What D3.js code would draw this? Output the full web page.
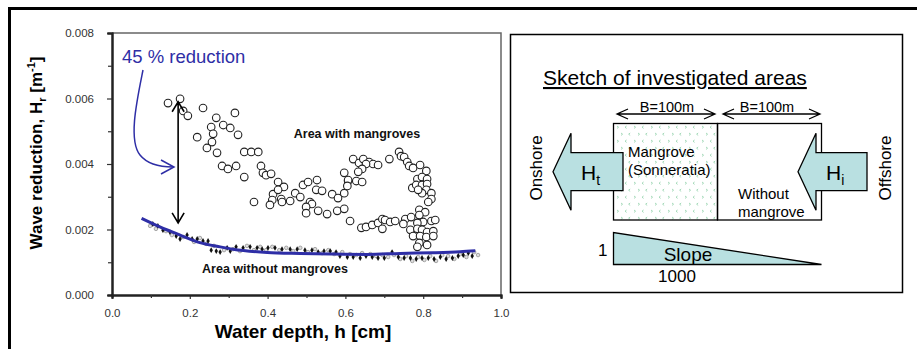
<!DOCTYPE html>
<html>
<head>
<meta charset="utf-8">
<script src="https://cdn.jsdelivr.net/npm/d3@7"></script>
<style>
  html, body { margin: 0; padding: 0; background: #fff; }
  svg { display: block; font-family: "Liberation Sans", Arial, sans-serif; }
</style>
</head>
<body>
<svg id="fig" width="917" height="349"></svg>
<script>
// Wave reduction with mangroves (open circles): [water depth h, Hr]
const withMangroves = [
  [0.144,0.00586],[0.175,0.00599],[0.183,0.00562],[0.195,0.00547],[0.234,0.00571],
  [0.268,0.00541],[0.316,0.00556],[0.255,0.00513],[0.260,0.00492],[0.286,0.00519],
  [0.304,0.00510],[0.324,0.00489],[0.219,0.00482],[0.257,0.00467],[0.244,0.00449],
  [0.270,0.00434],[0.283,0.00394],[0.298,0.00385],[0.319,0.00394],[0.340,0.00437],
  [0.358,0.00437],[0.376,0.00437],[0.340,0.00360],[0.365,0.00284],[0.383,0.00394],
  [0.388,0.00373],[0.396,0.00366],[0.409,0.00370],[0.427,0.00345],[0.442,0.00330],
  [0.414,0.00308],[0.427,0.00321],[0.435,0.00293],[0.412,0.00290],[0.406,0.00275],
  [0.437,0.00284],[0.458,0.00287],[0.471,0.00311],[0.484,0.00299],[0.491,0.00336],
  [0.504,0.00345],[0.527,0.00351],[0.525,0.00321],[0.540,0.00318],[0.566,0.00308],
  [0.581,0.00296],[0.597,0.00311],[0.597,0.00373],[0.607,0.00348],[0.509,0.00284],
  [0.514,0.00278],[0.499,0.00269],[0.499,0.00250],[0.530,0.00257],[0.553,0.00247],
  [0.579,0.00257],[0.597,0.00263],[0.612,0.00226],[0.641,0.00205],[0.653,0.00208],
  [0.669,0.00214],[0.684,0.00220],[0.695,0.00232],[0.702,0.00229],[0.695,0.00202],
  [0.715,0.00223],[0.728,0.00226],[0.620,0.00415],[0.635,0.00403],[0.646,0.00415],
  [0.661,0.00406],[0.671,0.00400],[0.684,0.00397],[0.653,0.00400],[0.643,0.00385],
  [0.633,0.00376],[0.607,0.00351],[0.628,0.00348],[0.643,0.00345],[0.605,0.00333],
  [0.713,0.00415],[0.738,0.00437],[0.743,0.00424],[0.751,0.00421],[0.759,0.00406],
  [0.764,0.00394],[0.774,0.00388],[0.792,0.00397],[0.808,0.00379],[0.785,0.00354],
  [0.797,0.00360],[0.810,0.00354],[0.772,0.00327],[0.782,0.00336],[0.797,0.00336],
  [0.810,0.00339],[0.808,0.00321],[0.821,0.00311],[0.821,0.00293],[0.813,0.00284],
  [0.790,0.00260],[0.805,0.00253],[0.790,0.00244],[0.800,0.00223],[0.821,0.00226],
  [0.831,0.00229],[0.785,0.00220],[0.754,0.00232],[0.769,0.00238],[0.749,0.00217],
  [0.767,0.00199],[0.785,0.00202],[0.797,0.00199],[0.810,0.00192],[0.826,0.00195],
  [0.774,0.00180],[0.792,0.00180],[0.808,0.00177],[0.826,0.00180],[0.790,0.00159],
  [0.810,0.00153],[0.785,0.00147],[0.797,0.00311],[0.787,0.00321]
];

// Wave reduction without mangroves, dark markers: [h, Hr]
const withoutDark = [
  [0.105,0.00217],[0.118,0.00211],[0.131,0.00198],[0.149,0.00192],[0.165,0.00180],
  [0.175,0.00171],[0.193,0.00183],[0.206,0.00171],[0.219,0.00171],[0.234,0.00165],
  [0.247,0.00165],[0.255,0.00137],[0.268,0.00134],[0.278,0.00131],[0.296,0.00144],
  [0.304,0.00134],[0.319,0.00147],[0.337,0.00144],[0.355,0.00147],[0.373,0.00144],
  [0.386,0.00140],[0.401,0.00144],[0.419,0.00144],[0.437,0.00140],[0.458,0.00140],
  [0.476,0.00140],[0.496,0.00137],[0.514,0.00137],[0.530,0.00131],[0.545,0.00134],
  [0.561,0.00134],[0.576,0.00131],[0.586,0.00119],[0.605,0.00116],[0.620,0.00116],
  [0.638,0.00113],[0.653,0.00119],[0.669,0.00116],[0.684,0.00113],[0.700,0.00113],
  [0.720,0.00131],[0.736,0.00116],[0.751,0.00113],[0.767,0.00113],[0.782,0.00110],
  [0.797,0.00113],[0.813,0.00113],[0.828,0.00110],[0.844,0.00116],[0.859,0.00110],
  [0.875,0.00113],[0.890,0.00119],[0.903,0.00122],[0.916,0.00128],[0.926,0.00119]
];

// Wave reduction without mangroves, light markers: [h, Hr]
const withoutLight = [
  [0.098,0.00211],[0.113,0.00202],[0.139,0.00195],[0.154,0.00183],[0.183,0.00177],
  [0.211,0.00162],[0.226,0.00174],[0.242,0.00156],[0.262,0.00150],[0.288,0.00137],
  [0.311,0.00140],[0.329,0.00134],[0.347,0.00150],[0.365,0.00137],[0.381,0.00147],
  [0.396,0.00137],[0.412,0.00147],[0.430,0.00137],[0.448,0.00144],[0.466,0.00134],
  [0.484,0.00144],[0.504,0.00131],[0.522,0.00140],[0.540,0.00128],[0.556,0.00137],
  [0.571,0.00125],[0.592,0.00131],[0.612,0.00125],[0.628,0.00122],[0.643,0.00128],
  [0.664,0.00125],[0.679,0.00119],[0.695,0.00122],[0.710,0.00116],[0.725,0.00122],
  [0.741,0.00110],[0.756,0.00119],[0.772,0.00104],[0.787,0.00116],[0.803,0.00107],
  [0.818,0.00119],[0.833,0.00104],[0.849,0.00122],[0.864,0.00119],[0.880,0.00110],
  [0.895,0.00125],[0.911,0.00116],[0.931,0.00131],[0.941,0.00122]
];

// Fitted trend for the area without mangroves: [h, Hr]
const trendLine = [
  [0.076,0.00234],[0.123,0.00208],[0.175,0.00183],[0.226,0.00160],[0.278,0.00147],
  [0.311,0.00140],[0.399,0.00130],[0.484,0.00127],[0.569,0.00125],[0.656,0.00124],
  [0.741,0.00127],[0.826,0.00129],[0.895,0.00132],[0.934,0.00135]
];

// Reduction marker: depth and the two Hr levels it spans
const reductionAt = 0.17;
const reductionSpan = [0.0059, 0.0022];

// Axis ticks
const yTicks = [0, 0.002, 0.004, 0.006, 0.008];
const yMinorTicks = [0.001, 0.003, 0.005, 0.007];
const xTicks = [0, 0.2, 0.4, 0.6, 0.8, 1.0];
const xMinorTicks = [0.1, 0.3, 0.5, 0.7, 0.9];

const svg = d3.select("#fig");
const BLUE = "#2e2ea6";
const TEAL = "#b9e0e1";

// outer frame
svg.append("rect").attr("x", 9.5).attr("y", 8.5).attr("width", 1000).attr("height", 1000)
  .attr("fill", "none").attr("stroke", "#000").attr("stroke-width", 3);

// ---------------- chart ----------------
const x = d3.scaleLinear().domain([0, 1]).range([112, 501]);
const y = d3.scaleLinear().domain([0, 0.008]).range([295, 33]);

const g = svg.append("g");

// frame top/right
g.append("path")
  .attr("d", `M${x(0)},${y(0.008)}H${x(1)}V${y(0)}`)
  .attr("fill", "none").attr("stroke", "#666").attr("stroke-width", 1.5);

const yAxis = g.append("g").attr("transform", `translate(${x(0)},0)`)
  .call(d3.axisLeft(y).tickValues(yTicks).tickFormat(d3.format(".3f")).tickSize(5).tickPadding(13));
const yMinor = g.append("g").attr("transform", `translate(${x(0)},0)`)
  .call(d3.axisLeft(y).tickValues(yMinorTicks).tickFormat("").tickSize(4));
const xAxis = g.append("g").attr("transform", `translate(0,${y(0)})`)
  .call(d3.axisBottom(x).tickValues(xTicks).tickFormat(d3.format(".1f")).tickSize(4).tickPadding(10));
const xMinor = g.append("g").attr("transform", `translate(0,${y(0)})`)
  .call(d3.axisBottom(x).tickValues(xMinorTicks).tickFormat("").tickSize(3));

[yAxis, yMinor, xAxis, xMinor].forEach(a => {
  a.select(".domain").attr("stroke", "#222").attr("stroke-width", 2);
  a.selectAll(".tick line").attr("stroke", "#333").attr("stroke-width", 1.2);
  a.selectAll(".tick text").attr("fill", "#333").attr("font-size", 11.5)
    .attr("font-family", "'Liberation Sans', Arial, sans-serif");
});

// without mangroves — light speckled markers
g.append("g").selectAll("circle").data(withoutLight).join("circle")
  .attr("cx", d => x(d[0])).attr("cy", d => y(d[1])).attr("r", 1.8)
  .attr("fill", "#ddd").attr("stroke", "#888").attr("stroke-width", 0.7);

// without mangroves — dark markers
g.append("g").selectAll("path").data(withoutDark).join("path")
  .attr("transform", d => `translate(${x(d[0])},${y(d[1])})`)
  .attr("d", d3.symbol(d3.symbolDiamond, 10)())
  .attr("fill", "#111");

// with mangroves — open circles
g.append("g").selectAll("circle").data(withMangroves).join("circle")
  .attr("cx", d => x(d[0])).attr("cy", d => y(d[1])).attr("r", 3.8)
  .attr("fill", "#fff").attr("stroke", "#222").attr("stroke-width", 1.1);

// fitted trend
g.append("path").datum(trendLine)
  .attr("d", d3.line().x(d => x(d[0])).y(d => y(d[1])).curve(d3.curveMonotoneX))
  .attr("fill", "none").attr("stroke", BLUE).attr("stroke-width", 3);

// double-headed reduction arrow
const ax = x(reductionAt), ay1 = y(reductionSpan[0]), ay2 = y(reductionSpan[1]);
g.append("path")
  .attr("d", `M${ax},${ay1}V${ay2}M${ax - 6},${ay1 + 10}L${ax},${ay1}L${ax + 6},${ay1 + 10}` +
             `M${ax - 6},${ay2 - 10}L${ax},${ay2}L${ax + 6},${ay2 - 10}`)
  .attr("fill", "none").attr("stroke", "#000").attr("stroke-width", 1.6);

// curved pointer from the label
g.append("path")
  .attr("d", "M143,70 C137,100 128,140 140,155 C148,165 160,167 173,167")
  .attr("fill", "none").attr("stroke", BLUE).attr("stroke-width", 1.5);
g.append("path")
  .attr("d", "M161,160 L174,167 L161,174")
  .attr("fill", "none").attr("stroke", BLUE).attr("stroke-width", 1.5);

g.append("text").attr("x", 122).attr("y", 63)
  .attr("font-size", 18.5).attr("fill", BLUE).text("45 % reduction");

g.append("text").attr("x", 357).attr("y", 138).attr("text-anchor", "middle")
  .attr("font-size", 12.5).attr("font-weight", "bold").attr("fill", "#111")
  .text("Area with mangroves");
g.append("text").attr("x", 275).attr("y", 273).attr("text-anchor", "middle")
  .attr("font-size", 12.5).attr("font-weight", "bold").attr("fill", "#111")
  .text("Area without mangroves");

// axis titles
g.append("text").attr("x", 303).attr("y", 338).attr("text-anchor", "middle")
  .attr("font-size", 19).attr("font-weight", "bold").attr("fill", "#000")
  .text("Water depth, h [cm]");

const yt = g.append("text").attr("transform", "translate(42,153) rotate(-90)")
  .attr("text-anchor", "middle").attr("font-size", 17).attr("font-weight", "bold").attr("fill", "#000");
yt.append("tspan").text("Wave reduction, H");
yt.append("tspan").attr("font-size", 11).attr("dy", 4).text("r");
yt.append("tspan").attr("dy", -4).text(" [m");
yt.append("tspan").attr("font-size", 11).attr("dy", -7).text("-1");
yt.append("tspan").attr("dy", 7).text("]");

// ---------------- sketch panel ----------------
const s = svg.append("g");
const defs = svg.append("defs");
const pat = defs.append("pattern").attr("id", "mangrovePattern")
  .attr("patternUnits", "userSpaceOnUse").attr("width", 17).attr("height", 14)
  .attr("x", 614).attr("y", 124);
pat.append("path")
  .attr("d", "M3,2 L4.6,3.2 L3,4.4 M12.6,2 L11,3.2 L12.6,4.4 M7,9 L8.6,10.2 L7,11.4 M16.2,9 L14.6,10.2 L16.2,11.4")
  .attr("fill", "none").attr("stroke", "#9bd5b1").attr("stroke-width", 0.9);

s.append("rect").attr("x", 510.5).attr("y", 34.5).attr("width", 392).attr("height", 258)
  .attr("fill", "#fff").attr("stroke", "#000").attr("stroke-width", 1.5);

s.append("text").attr("x", 543).attr("y", 85).attr("font-size", 21)
  .attr("text-decoration", "underline").attr("fill", "#000").text("Sketch of investigated areas");

// study area boxes
s.append("rect").attr("x", 613.5).attr("y", 123.5).attr("width", 104).attr("height", 96.5)
  .attr("fill", "url(#mangrovePattern)").attr("stroke", "#000").attr("stroke-width", 1.3);
s.append("rect").attr("x", 717.5).attr("y", 123.5).attr("width", 104).attr("height", 96.5)
  .attr("fill", "none").attr("stroke", "#000").attr("stroke-width", 1.3);

// width dimension arrows
function dimArrow(x1, x2, yy) {
  s.append("path")
    .attr("d", `M${x1},${yy}H${x2}M${x1 + 11},${yy - 5}L${x1},${yy}L${x1 + 11},${yy + 5}` +
               `M${x2 - 11},${yy - 5}L${x2},${yy}L${x2 - 11},${yy + 5}`)
    .attr("fill", "none").attr("stroke", "#000").attr("stroke-width", 1.3);
}
dimArrow(617, 715, 114);
dimArrow(723, 820, 114);
s.append("text").attr("x", 667).attr("y", 112).attr("text-anchor", "middle")
  .attr("font-size", 14.5).text("B=100m");
s.append("text").attr("x", 767).attr("y", 112).attr("text-anchor", "middle")
  .attr("font-size", 14.5).text("B=100m");

// wave arrows
function blockArrow(tipX, headX, tailX) {
  const cy = 171.7, headH = 38.5, shaftH = 19;
  s.append("path")
    .attr("d", `M${tipX},${cy}L${headX},${cy - headH}V${cy - shaftH}H${tailX}V${cy + shaftH}H${headX}V${cy + headH}Z`)
    .attr("fill", TEAL).attr("stroke", "#000").attr("stroke-width", 1.3);
}
blockArrow(553, 571, 623);
blockArrow(798, 816, 867);

function waveLabel(xx, sub) {
  const t = s.append("text").attr("x", xx).attr("y", 180).attr("font-size", 21);
  t.append("tspan").text("H");
  t.append("tspan").attr("font-size", 14).attr("dy", 5).text(sub);
}
waveLabel(581, "t");
waveLabel(826, "i");

s.append("text").attr("transform", "translate(542,168) rotate(-90)")
  .attr("text-anchor", "middle").attr("font-size", 17).text("Onshore");
s.append("text").attr("transform", "translate(891,168) rotate(-90)")
  .attr("text-anchor", "middle").attr("font-size", 17).text("Offshore");

s.append("text").attr("x", 628).attr("y", 157).attr("font-size", 15).text("Mangrove");
s.append("text").attr("x", 628).attr("y", 175).attr("font-size", 15).text("(Sonneratia)");
s.append("text").attr("x", 738).attr("y", 199).attr("font-size", 15).text("Without");
s.append("text").attr("x", 738).attr("y", 217).attr("font-size", 15).text("mangrove");

// slope wedge
s.append("path").attr("d", "M613.5,232.5V264.5H821.5Z")
  .attr("fill", TEAL).attr("stroke", "#000").attr("stroke-width", 1.3);
s.append("text").attr("x", 688).attr("y", 261).attr("text-anchor", "middle")
  .attr("font-size", 19).text("Slope");
s.append("text").attr("x", 598).attr("y", 256).attr("font-size", 17).text("1");
s.append("text").attr("x", 677).attr("y", 282).attr("text-anchor", "middle")
  .attr("font-size", 17).text("1000");
</script>
</body>
</html>
